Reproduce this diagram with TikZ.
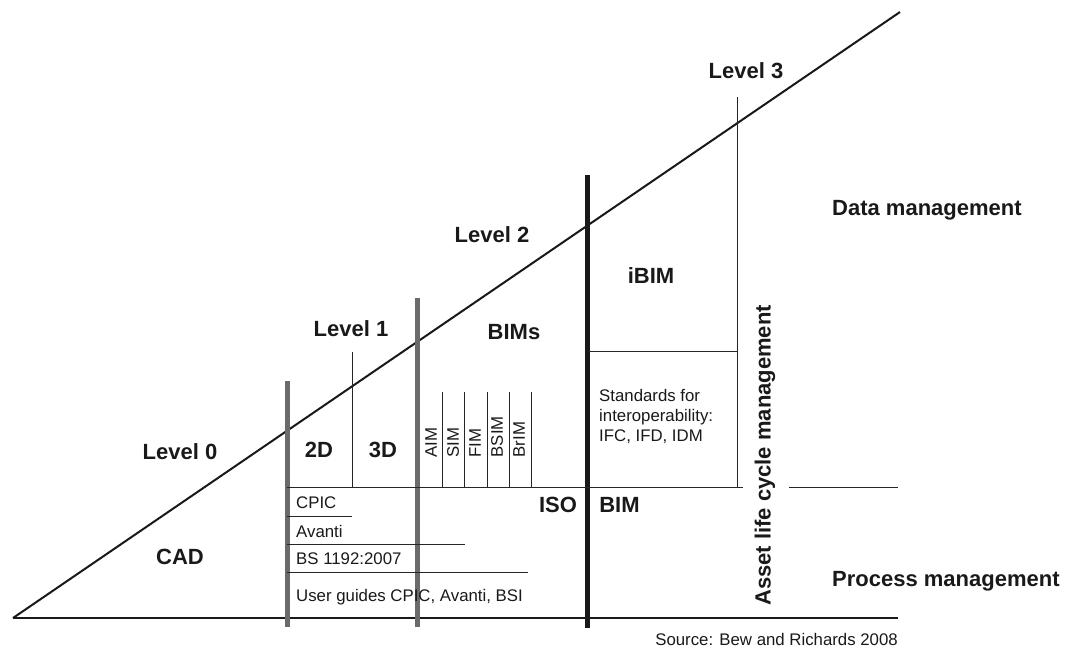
\documentclass[tikz,border=0pt]{standalone}
\usepackage{fontspec}
\setmainfont{Liberation Sans}
\begin{document}
\begin{tikzpicture}[x=1pt,y=-1pt,
  thin rule/.style={line width=0.9pt,black!85},
  gray bar/.style={line width=5pt,color=black!58},
  black bar/.style={line width=5pt,black!90},
  big/.style={inner sep=0pt,font=\bfseries\fontsize{22}{26}\selectfont,text=black!90},
  small/.style={inner sep=0pt,font=\fontsize{16.8}{20}\selectfont,text=black!90},
  tag/.style={small,rotate=90,anchor=west}]
\useasboundingbox (0,0) rectangle (1069,648);

% frame points
\coordinate (o) at (13,618);
\coordinate (tip) at (900,12);
\coordinate (baseR) at (898,618);

% the rising diagonal and the base line
\draw[line width=2pt,black!90] (o) -- (tip);
\draw[line width=2.5pt,black!90] (o) -- (baseR);

% vertical bars between levels
\coordinate (g1t) at (287,381);  \coordinate (g1b) at (287,627);
\coordinate (g2t) at (417,298);  \coordinate (g2b) at (417,627);
\coordinate (bkt) at (587.5,175); \coordinate (bkb) at (587.5,628);
\draw[gray bar] (g1t) -- (g1b);
\draw[gray bar] (g2t) -- (g2b);
\draw[black bar] (bkt) -- (bkb);

% thin dividers
\coordinate (d1t) at (352,352);  \coordinate (d1b) at (352,487);
\coordinate (d3t) at (737,97);   \coordinate (d3b) at (737,487);
\draw[thin rule] (d1t) -- (d1b);
\draw[thin rule] (d3t) -- (d3b);

% horizontal split between data and process
\coordinate (hL) at (287,487);  \coordinate (hM) at (743,487);
\coordinate (hN) at (789,487);  \coordinate (hR) at (898,487);
\draw[thin rule] (hL) -- (hM);
\draw[thin rule] (hN) -- (hR);

% iBIM / standards split
\coordinate (iL) at (588,351);  \coordinate (iR) at (737,351);
\draw[thin rule] (iL) -- (iR);

% standards rows under level 1
\coordinate (r1a) at (287,516); \coordinate (r1b) at (352,516);
\coordinate (r2a) at (287,544); \coordinate (r2b) at (465,544);
\coordinate (r3a) at (287,572); \coordinate (r3b) at (528,572);
\draw[thin rule] (r1a) -- (r1b);
\draw[thin rule] (r2a) -- (r2b);
\draw[thin rule] (r3a) -- (r3b);

% BIMs columns
\foreach \n/\x in {a/442,b/464,c/487,d/509,e/531}{
  \coordinate (c\n t) at (\x,392);
  \coordinate (c\n b) at (\x,487);
  \draw[thin rule] (c\n t) -- (c\n b);
}

% level labels
\node[big] (lv0) at (180,452) {Level 0};
\node[big] (lv1) at (351,329) {Level 1};
\node[big] (lv2) at (492,234.5) {Level 2};
\node[big] (lv3) at (746,70.5) {Level 3};

\node[big] (cad) at (180,557) {CAD};
\node[big] (d2) at (319,449.5) {2D};
\node[big] (d3) at (383,449.5) {3D};
\node[big] (bims) at (514,332) {BIMs};
\node[big] (ibim) at (651,276) {iBIM};
\node[big] (iso) at (558,505) {ISO};
\node[big] (bim) at (619.5,505) {BIM};

\node[big,anchor=west] (dm) at (832,210) {Data management};
\node[big,anchor=west] (pm) at (832,581) {Process management};
\node[big,rotate=90,anchor=west] (alm) at (765,606) {Asset life cycle management};

% BIM model types
\node[tag] (aim) at (431,457.5) {AIM};
\node[tag] (sim) at (453,457.5) {SIM};
\node[tag] (fim) at (475,457.5) {FIM};
\node[tag] (bsim) at (497,457.5) {BSIM};
\node[tag] (brim) at (519,457.5) {BrIM};

% standards and guides
\node[small,anchor=base west] (cpic) at (296,508) {CPIC};
\node[small,anchor=base west] (avanti) at (296,537) {Avanti};
\node[small,anchor=base west] (bs) at (296,564) {BS 1192:2007};
\node[small,anchor=base west] (ug) at (296,601) {User guides CPIC, Avanti, BSI};
\node[small,anchor=base west,align=left] (std) at (599,441)
  {Standards for\\interoperability:\\IFC, IFD, IDM};

\node[small,anchor=base east] (src) at (898,645)
  {Source: Bew and Richards 2008};
\end{tikzpicture}
\end{document}
